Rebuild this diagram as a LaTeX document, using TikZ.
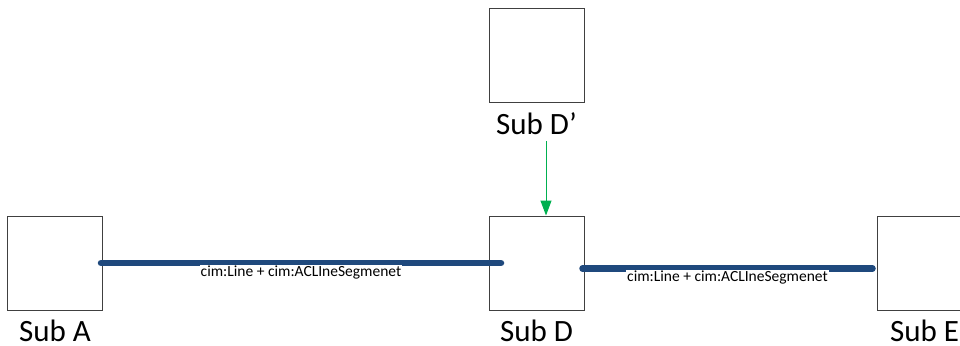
\documentclass[tikz,border=0pt]{standalone}
\usepackage{fontspec}
\setmainfont{Carlito}
\usetikzlibrary{calc,arrows.meta}
\definecolor{feederblue}{HTML}{1F497D}
\definecolor{arrowgreen}{HTML}{00B050}
\definecolor{boxgrey}{HTML}{404040}
\begin{document}
\begin{tikzpicture}[x=1pt,y=-1pt,
  subbox/.style={draw=boxgrey, line width=1pt, fill=white, minimum width=95pt, minimum height=94pt, inner sep=0pt},
  sublbl/.style={font=\fontsize{31}{31}\selectfont, inner sep=0pt, anchor=base},
  feeder/.style={draw=feederblue, line width=6.5pt, line cap=round},
  cimlbl/.style={font=\fontsize{15.5}{15.5}\selectfont, fill=white, inner sep=1pt, anchor=north},
  link/.style={draw=arrowgreen, line width=1pt, -{Triangle[width=11pt,length=15pt]}}]
\useasboundingbox (0,0) rectangle (960,345);
% boxes
\node[subbox] (A)  at (55,263) {};
\node[subbox] (Dp) at (536.5,55.5) {};
\node[subbox] (D)  at (536.5,263) {};
\node[subbox] (E)  at (924.5,263) {};
% labels
\node[sublbl] (Al)  at ($(A.south)+(0,31)$) {Sub A};
\node[sublbl] (Dpl) at ($(Dp.south)+(0,31)$) {Sub D’};
\node[sublbl] (Dl)  at ($(D.south)+(0,31)$) {Sub D};
\node[sublbl] (El)  at ($(E.south)+(0,31)$) {Sub E};
% feeders
\coordinate (l1s) at ($(A.east)+(-2,0)$);
\coordinate (l1e) at ($(D.west)+(12.5,0)$);
\coordinate (l2s) at ($(D.east)+(-2,5.5)$);
\coordinate (l2e) at ($(E.west)+(-4,5.5)$);
\draw[feeder] (l1s) -- (l1e);
\draw[feeder] (l2s) -- (l2e);
\node[cimlbl] (c1) at ($(l1s)!0.5!(l1e)+(0,1.5)$) {cim:Line + cim:ACLIneSegmenet};
\node[cimlbl] (c2) at ($(l2s)!0.5!(l2e)+(0,1.5)$) {cim:Line + cim:ACLIneSegmenet};
% arrow
\coordinate (as) at ($(Dp.south)+(9.5,38)$);
\coordinate (ae) at ($(D.north)+(9.5,0)$);
\draw[link] (as) -- (ae);
\end{tikzpicture}
\end{document}
